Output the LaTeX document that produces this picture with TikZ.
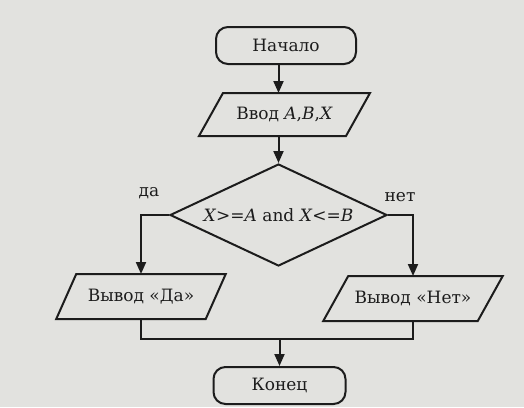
\documentclass[tikz,border=0pt]{standalone}
\usepackage{fontspec}
\setmainfont{DejaVu Serif}
\usetikzlibrary{arrows.meta,shapes.geometric}
\definecolor{bg}{RGB}{226,226,223}
\definecolor{ink}{RGB}{28,28,28}
\begin{document}
\begin{tikzpicture}[x=1pt,y=-1pt,line width=2pt,
  every node/.style={text=ink,font=\fontsize{17pt}{20pt}\selectfont},
  term/.style={draw=ink,rectangle,rounded corners=12pt,minimum width=140pt,minimum height=37pt,inner sep=0pt},
  io/.style={rectangle,minimum height=43pt,inner sep=0pt},
  dec/.style={draw=ink,diamond,aspect=2.13,minimum width=217pt,minimum height=102pt,inner sep=0pt},
  arr/.style={draw=ink,-{Triangle[length=12pt,width=10pt]}},
  ln/.style={draw=ink}]
\useasboundingbox (0,0) rectangle (524,407);
\fill[bg] (0,0) rectangle (524,407);
% nodes
\node[term] (start) at (286,45.5) {Начало};
\node[io,minimum width=145pt,minimum height=41pt] (in) at (284.5,114.5) {Ввод \textit{A},\textit{B},\textit{X}};
\draw[ln] ([xshift=12pt]in.north west) -- ([xshift=12pt]in.north east) -- ([xshift=-12pt]in.south east) -- ([xshift=-12pt]in.south west) -- cycle;
\node[dec] (dia) at (278.5,215) {\textit{X}>=\textit{A} and \textit{X}<=\textit{B}};
\node[io,minimum width=147.5pt] (yes) at (141,296.5) {Вывод «Да»};
\draw[ln] ([xshift=10pt]yes.north west) -- ([xshift=10pt]yes.north east) -- ([xshift=-10pt]yes.south east) -- ([xshift=-10pt]yes.south west) -- cycle;
\node[io,minimum width=152.5pt] (no) at (413,298.5) {Вывод «Нет»};
\draw[ln] ([xshift=12.5pt]no.north west) -- ([xshift=12.5pt]no.north east) -- ([xshift=-12.5pt]no.south east) -- ([xshift=-12.5pt]no.south west) -- cycle;
\node[term,minimum width=132pt] (stop) at (279.5,385.5) {Конец};
\node (lyes) at (149,193) {да};
\node (lno) at (400,197) {нет};
\coordinate (merge) at (279.5,339);
% connectors
\draw[arr] (start.south -| dia.north) -- (in.north -| dia.north);
\draw[arr] (in.south -| dia.north) -- (dia.north);
\draw[arr] (dia.west) -| (yes.north);
\draw[arr] (dia.east) -| (no.north);
\draw[ln] (yes.south) |- (merge) -| (no.south);
\draw[arr] (merge) -- (stop.north);
\end{tikzpicture}
\end{document}
